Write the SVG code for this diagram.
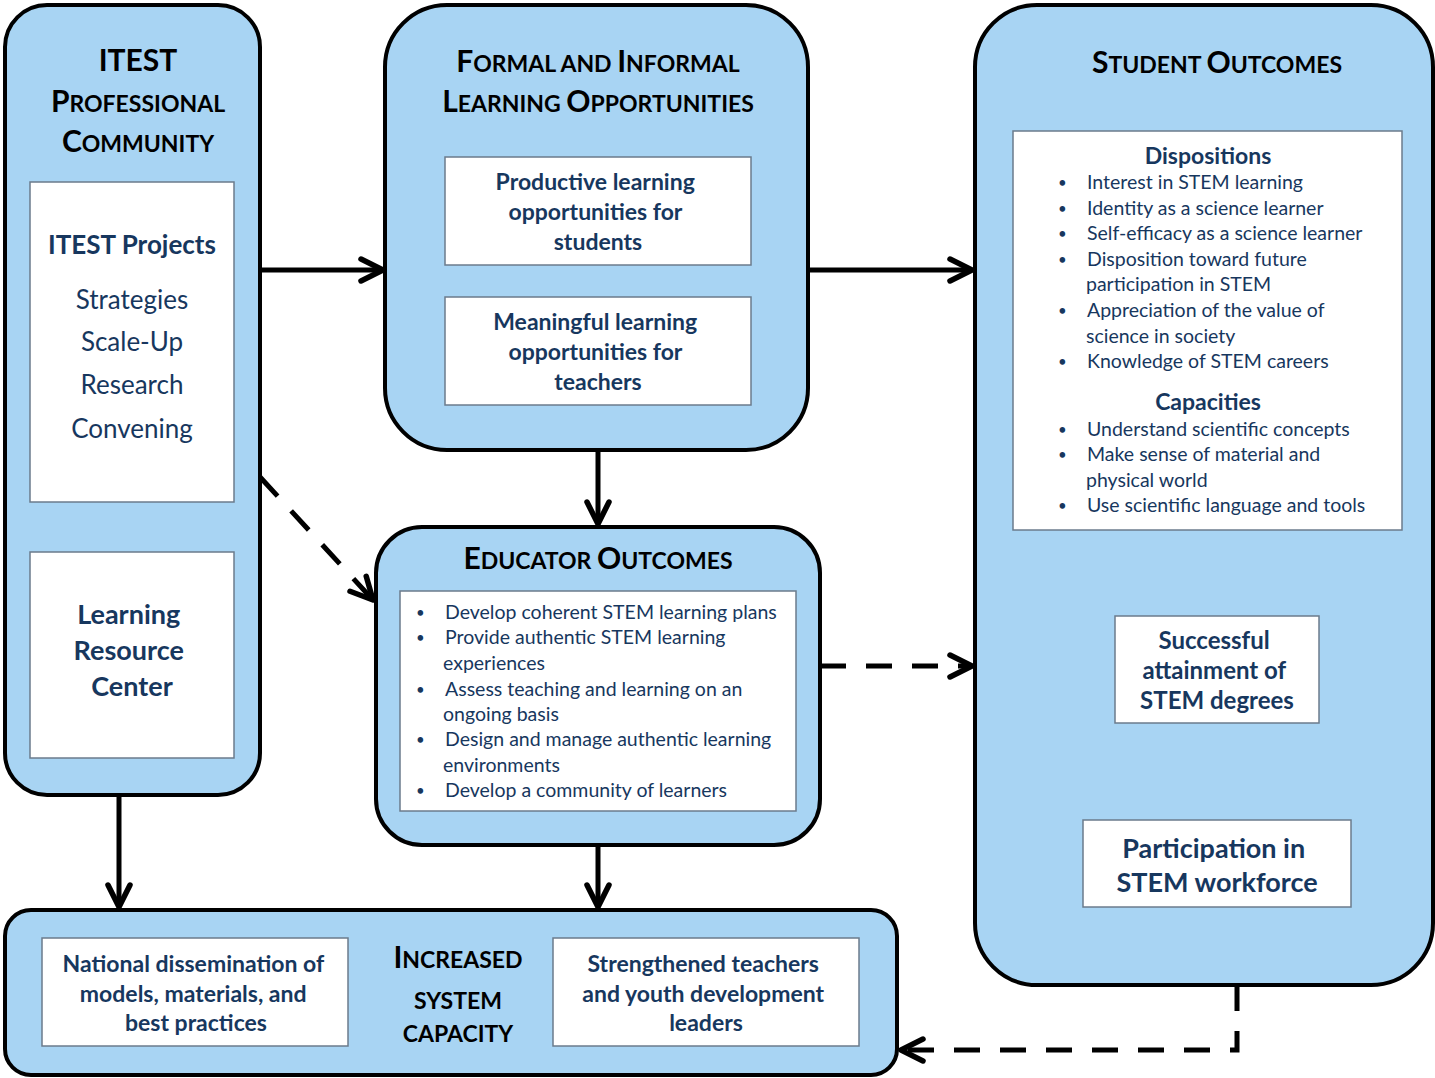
<svg xmlns="http://www.w3.org/2000/svg" width="1435" height="1078" viewBox="0 0 1435 1078">
  <style>
    .panel { fill: #A8D4F3; stroke: #000; stroke-width: 4; }
    .card { fill: #fff; stroke: #6B7B8C; stroke-width: 1.5; }
    .head { font-family: Lato, "Open Sans", sans-serif; font-weight: 700; fill: #000; text-anchor: middle; }
    .big { font-size: 30px; }
    .sc { font-size: 23px; }
    .title { font-family: Lato, "Open Sans", sans-serif; font-weight: 700; fill: #17375E; text-anchor: middle; }
    .body { font-family: Lato, "Open Sans", sans-serif; fill: #17375E; font-size: 19.5px; }
    .dot { font-size: 15px; }
    .plain { font-family: Lato, "Open Sans", sans-serif; fill: #17375E; text-anchor: middle; font-size: 26px; }
    .link { fill: none; stroke: #000; stroke-width: 5; marker-end: url(#chev); }
    .dash { stroke-dasharray: 26 20; }
  </style>
  <defs>
    <marker id="chev" markerUnits="userSpaceOnUse" markerWidth="60" markerHeight="60" viewBox="-30 -30 60 60" refX="0" refY="0" orient="auto" overflow="visible">
      <path d="M-22,-11 L0,0 L-22,11" fill="none" stroke="#000" stroke-width="5.5" stroke-dasharray="none" stroke-linecap="round" stroke-linejoin="round"/>
    </marker>
  </defs>

  <rect width="1435" height="1078" fill="#fff"/>

  <!-- connectors -->
  <g id="connectors">
    <path class="link" d="M260,270 H383"/>
    <path class="link" d="M808,270 H972"/>
    <path class="link" d="M598,450 V524"/>
    <path class="link dash" d="M260,477 L373,600"/>
    <path class="link dash" d="M820,666 H972"/>
    <path class="link" d="M119,795 V907"/>
    <path class="link" d="M598,845 V907"/>
    <path class="link" d="M1217,540 V600"/>
    <path class="link" d="M1217,743 V805"/>
    <path class="link dash" d="M1237,985 V1050 H901"/>
  </g>

  <!-- ITEST professional community -->
  <g id="itest-community">
    <rect class="panel" x="5" y="5" width="255" height="790" rx="42"/>
    <text class="head" x="138" y="71"><tspan class="big">ITEST</tspan></text>
    <text class="head" x="138" y="112"><tspan class="big">P</tspan><tspan class="sc">ROFESSIONAL</tspan></text>
    <text class="head" x="138" y="152"><tspan class="big">C</tspan><tspan class="sc">OMMUNITY</tspan></text>
  </g>
  <g id="itest-projects">
    <rect class="card" x="30" y="182" width="204" height="320"/>
    <text class="title" x="132" y="254" font-size="26">ITEST Projects</text>
    <text class="plain" x="132" y="309">Strategies</text>
    <text class="plain" x="132" y="351">Scale-Up</text>
    <text class="plain" x="132" y="394">Research</text>
    <text class="plain" x="132" y="438">Convening</text>
  </g>
  <g id="learning-resource-center">
    <rect class="card" x="30" y="552" width="204" height="206"/>
    <text class="title" font-size="27">
      <tspan x="132" y="624">Learning</tspan>
      <tspan x="132" y="660">Resource</tspan>
      <tspan x="132" y="696">Center</tspan>
    </text>
  </g>

  <!-- formal and informal learning opportunities -->
  <g id="learning-opportunities">
    <rect class="panel" x="385" y="5" width="423" height="445" rx="62"/>
    <text class="head" x="598" y="72"><tspan class="big">F</tspan><tspan class="sc">ORMAL AND </tspan><tspan class="big">I</tspan><tspan class="sc">NFORMAL</tspan></text>
    <text class="head" x="598" y="112"><tspan class="big">L</tspan><tspan class="sc">EARNING </tspan><tspan class="big">O</tspan><tspan class="sc">PPORTUNITIES</tspan></text>
  </g>
  <g id="students-opportunities">
    <rect class="card" x="445" y="157" width="306" height="108"/>
    <text class="title" font-size="23">
      <tspan x="598" y="190">Productive learning</tspan>
      <tspan x="598" y="220">opportunities for</tspan>
      <tspan x="598" y="250">students</tspan>
    </text>
  </g>
  <g id="teachers-opportunities">
    <rect class="card" x="445" y="297" width="306" height="108"/>
    <text class="title" font-size="23">
      <tspan x="598" y="330">Meaningful learning</tspan>
      <tspan x="598" y="360">opportunities for</tspan>
      <tspan x="598" y="390">teachers</tspan>
    </text>
  </g>

  <!-- educator outcomes -->
  <g id="educator-outcomes">
    <rect class="panel" x="376" y="527" width="444" height="318" rx="46"/>
    <text class="head" x="598" y="569"><tspan class="big">E</tspan><tspan class="sc">DUCATOR </tspan><tspan class="big">O</tspan><tspan class="sc">UTCOMES</tspan></text>
    <rect class="card" x="400" y="591" width="396" height="220"/>
    <g class="body">
      <text class="dot" x="416" y="618">•</text><text x="445" y="619">Develop coherent STEM learning plans</text>
      <text class="dot" x="416" y="643">•</text><text x="445" y="644">Provide authentic STEM learning</text>
      <text x="443" y="670">experiences</text>
      <text class="dot" x="416" y="695">•</text><text x="445" y="696">Assess teaching and learning on an</text>
      <text x="443" y="721">ongoing basis</text>
      <text class="dot" x="416" y="745">•</text><text x="445" y="746">Design and manage authentic learning</text>
      <text x="443" y="772">environments</text>
      <text class="dot" x="416" y="796">•</text><text x="445" y="797">Develop a community of learners</text>
    </g>
  </g>

  <!-- student outcomes -->
  <g id="student-outcomes">
    <rect class="panel" x="975" y="5" width="458" height="980" rx="62"/>
    <text class="head" x="1217" y="73"><tspan class="big">S</tspan><tspan class="sc">TUDENT </tspan><tspan class="big">O</tspan><tspan class="sc">UTCOMES</tspan></text>
  </g>
  <g id="dispositions-capacities">
    <rect class="card" x="1013" y="131" width="389" height="399"/>
    <text class="title" x="1208" y="164" font-size="23">Dispositions</text>
    <g class="body">
      <text class="dot" x="1058" y="188">•</text><text x="1087" y="189">Interest in STEM learning</text>
      <text class="dot" x="1058" y="214">•</text><text x="1087" y="215">Identity as a science learner</text>
      <text class="dot" x="1058" y="239">•</text><text x="1087" y="240">Self-efficacy as a science learner</text>
      <text class="dot" x="1058" y="265">•</text><text x="1087" y="266">Disposition toward future</text>
      <text x="1086" y="291">participation in STEM</text>
      <text class="dot" x="1058" y="316">•</text><text x="1087" y="317">Appreciation of the value of</text>
      <text x="1086" y="343">science in society</text>
      <text class="dot" x="1058" y="367">•</text><text x="1087" y="368">Knowledge of STEM careers</text>
    </g>
    <text class="title" x="1208" y="410" font-size="23">Capacities</text>
    <g class="body">
      <text class="dot" x="1058" y="435">•</text><text x="1087" y="436">Understand scientific concepts</text>
      <text class="dot" x="1058" y="460">•</text><text x="1087" y="461">Make sense of material and</text>
      <text x="1086" y="487">physical world</text>
      <text class="dot" x="1058" y="511">•</text><text x="1087" y="512">Use scientific language and tools</text>
    </g>
  </g>
  <g id="stem-degrees">
    <rect class="card" x="1115" y="616" width="204" height="107"/>
    <text class="title" font-size="24">
      <tspan x="1217" y="649">Successful</tspan>
      <tspan x="1217" y="679">attainment of</tspan>
      <tspan x="1217" y="709">STEM degrees</tspan>
    </text>
  </g>
  <g id="stem-workforce">
    <rect class="card" x="1083" y="820" width="268" height="87"/>
    <text class="title" font-size="27">
      <tspan x="1217" y="858">Participation in</tspan>
      <tspan x="1217" y="892">STEM workforce</tspan>
    </text>
  </g>

  <!-- increased system capacity -->
  <g id="system-capacity">
    <rect class="panel" x="5" y="910" width="892" height="165" rx="26"/>
    <text class="head" x="458" y="968"><tspan class="big">I</tspan><tspan class="sc">NCREASED</tspan></text>
    <text class="head" x="458" y="1009"><tspan class="sc">SYSTEM</tspan></text>
    <text class="head" x="458" y="1042"><tspan class="sc">CAPACITY</tspan></text>
  </g>
  <g id="national-dissemination">
    <rect class="card" x="42" y="938" width="306" height="108"/>
    <text class="title" font-size="23">
      <tspan x="196" y="972">National dissemination of</tspan>
      <tspan x="196" y="1002">models, materials, and</tspan>
      <tspan x="196" y="1031">best practices</tspan>
    </text>
  </g>
  <g id="strengthened-teachers">
    <rect class="card" x="553" y="938" width="306" height="108"/>
    <text class="title" font-size="23">
      <tspan x="706" y="972">Strengthened teachers</tspan>
      <tspan x="706" y="1002">and youth development</tspan>
      <tspan x="706" y="1031">leaders</tspan>
    </text>
  </g>
</svg>
